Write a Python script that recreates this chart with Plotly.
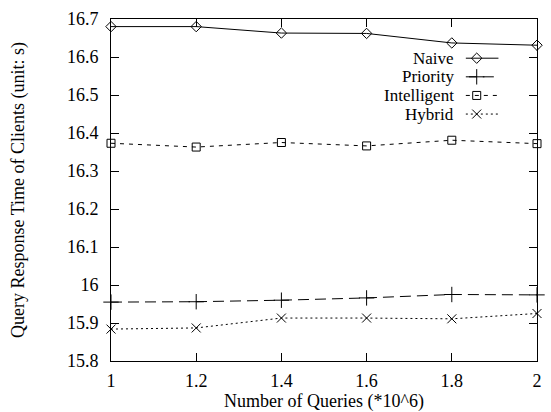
import plotly.graph_objects as go

queries = [1.0, 1.2, 1.4, 1.6, 1.8, 2.0]
naive = [16.680, 16.680, 16.663, 16.662, 16.637, 16.631]
priority = [15.955, 15.956, 15.960, 15.966, 15.975, 15.974]
intelligent = [16.373, 16.363, 16.375, 16.366, 16.381, 16.372]
hybrid = [15.884, 15.887, 15.913, 15.913, 15.911, 15.925]

series_names = ["Naive", "Priority", "Intelligent", "Hybrid"]
series_values = [naive, priority, intelligent, hybrid]
dashes = ["solid", "11px,6px", "4px,5px", "2px,3px"]
symbols = ["diamond-open", "cross-thin-open", "square-open", "x-thin-open"]
sizes = [8, 11, 8, 9]

x_ticks = [1, 1.2, 1.4, 1.6, 1.8, 2]
x_ticklabels = ["1", "1.2", "1.4", "1.6", "1.8", "2"]
y_ticks = [15.8, 15.9, 16.0, 16.1, 16.2, 16.3, 16.4, 16.5, 16.6, 16.7]
y_ticklabels = ["15.8", "15.9", "16", "16.1", "16.2", "16.3", "16.4", "16.5", "16.6", "16.7"]

FONT = "Liberation Serif"
FS = 18
LEG_FS = 17
W, H = 551, 412
L, R, T, B = 111, 9, 12, 51

fig = go.Figure()
for name, vals, dash, sym, sz in zip(series_names, series_values, dashes, symbols, sizes):
    fig.add_trace(go.Scatter(
        x=queries, y=vals, mode="lines+markers", name=name, showlegend=False,
        line=dict(color="black", width=1, dash=dash),
        marker=dict(symbol=sym, size=sz, color="black", line=dict(width=1, color="black")),
        cliponaxis=False,
    ))

# manual legend (text left of sample, gnuplot style), in pixel coordinates of overlay axes
leg_y = [52, 71, 90, 109]
x0p, x1p, xm = 470, 503, 481
for name, dash, sym, sz, yy in zip(series_names, dashes, symbols, sizes, leg_y):
    fig.add_trace(go.Scatter(
        x=[x0p, x1p], y=[yy, yy], xaxis="x2", yaxis="y2",
        mode="lines", showlegend=False, hoverinfo="skip",
        line=dict(color="black", width=1, dash=dash),
    ))
    fig.add_trace(go.Scatter(
        x=[xm], y=[yy], xaxis="x2", yaxis="y2",
        mode="markers", showlegend=False, hoverinfo="skip",
        marker=dict(symbol=sym, size=sz, color="black", line=dict(width=1, color="black")),
    ))
    fig.add_annotation(x=459, y=yy, xref="x2", yref="y2", text=name, showarrow=False,
                       xanchor="right", yanchor="middle", borderpad=0,
                       font=dict(family=FONT, size=LEG_FS, color="black"))

tick_font = dict(family=FONT, size=FS, color="black")
axis_common = dict(
    showgrid=False, zeroline=False, showline=True, linecolor="black", linewidth=1,
    mirror="ticks", ticks="inside", ticklen=8, tickcolor="black", tickwidth=1,
    tickfont=tick_font,
)

fig.update_layout(
    width=W, height=H,
    margin=dict(l=L, r=R, t=T, b=B),
    paper_bgcolor="white", plot_bgcolor="white",
    font=dict(family=FONT, size=FS, color="black"),
    showlegend=False,
    xaxis=dict(range=[1, 2], tickvals=x_ticks, ticktext=x_ticklabels, ticklabelstandoff=3, **axis_common),
    yaxis=dict(range=[15.8, 16.7], tickvals=y_ticks, ticktext=y_ticklabels, ticklabelstandoff=8, **axis_common),
    xaxis2=dict(range=[L, W - R], overlaying="x", visible=False, fixedrange=True),
    yaxis2=dict(range=[H - B, T], overlaying="y", visible=False, fixedrange=True),
)

fig.add_annotation(x=0.5, y=0, xref="paper", yref="paper", yshift=-40, borderpad=0,
                   text="Number of Queries (*10^6)", showarrow=False,
                   xanchor="center", yanchor="middle",
                   font=dict(family=FONT, size=FS, color="black"))
fig.add_annotation(x=0, y=0.5, xref="paper", yref="paper", xshift=-93, borderpad=0,
                   text="Query Response Time of Clients (unit: s)", showarrow=False, textangle=-90,
                   xanchor="center", yanchor="middle",
                   font=dict(family=FONT, size=FS, color="black"))

fig.write_html("out.html", config={"displayModeBar": False},
               post_script="document.body.style.margin='0px';")
